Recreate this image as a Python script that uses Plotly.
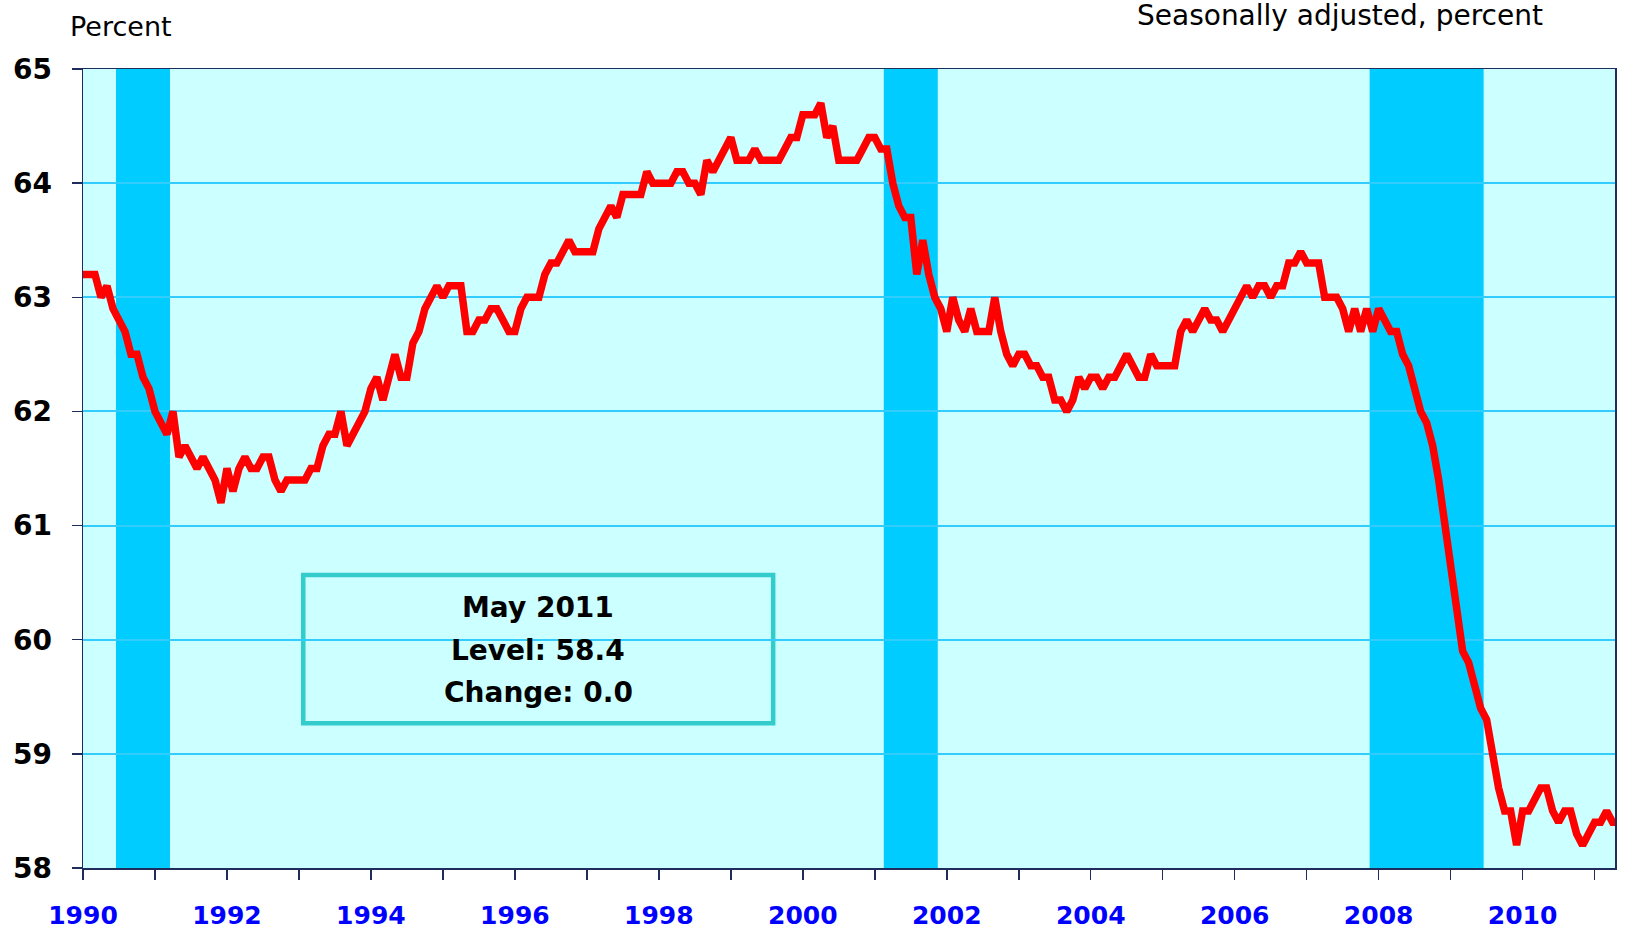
import plotly.graph_objects as go

# Employment-population ratio, seasonally adjusted, monthly Jan 1990 - May 2011
start_year = 1990
ratio_1990s = [
    63.2, 63.2, 63.2, 63.0, 63.1, 62.9, 62.8, 62.7, 62.5, 62.5, 62.3, 62.2,  # 1990
    62.0, 61.9, 61.8, 62.0, 61.6, 61.7, 61.6, 61.5, 61.6, 61.5, 61.4, 61.2,  # 1991
    61.5, 61.3, 61.5, 61.6, 61.5, 61.5, 61.6, 61.6, 61.4, 61.3, 61.4, 61.4,  # 1992
    61.4, 61.4, 61.5, 61.5, 61.7, 61.8, 61.8, 62.0, 61.7, 61.8, 61.9, 62.0,  # 1993
    62.2, 62.3, 62.1, 62.3, 62.5, 62.3, 62.3, 62.6, 62.7, 62.9, 63.0, 63.1,  # 1994
    63.0, 63.1, 63.1, 63.1, 62.7, 62.7, 62.8, 62.8, 62.9, 62.9, 62.8, 62.7,  # 1995
    62.7, 62.9, 63.0, 63.0, 63.0, 63.2, 63.3, 63.3, 63.4, 63.5, 63.4, 63.4,  # 1996
    63.4, 63.4, 63.6, 63.7, 63.8, 63.7, 63.9, 63.9, 63.9, 63.9, 64.1, 64.0,  # 1997
    64.0, 64.0, 64.0, 64.1, 64.1, 64.0, 64.0, 63.9, 64.2, 64.1, 64.2, 64.3,  # 1998
    64.4, 64.2, 64.2, 64.2, 64.3, 64.2, 64.2, 64.2, 64.2, 64.3, 64.4, 64.4,  # 1999
]
ratio_2000s = [
    64.6, 64.6, 64.6, 64.7, 64.4, 64.5, 64.2, 64.2, 64.2, 64.2, 64.3, 64.4,  # 2000
    64.4, 64.3, 64.3, 64.0, 63.8, 63.7, 63.7, 63.2, 63.5, 63.2, 63.0, 62.9,  # 2001
    62.7, 63.0, 62.8, 62.7, 62.9, 62.7, 62.7, 62.7, 63.0, 62.7, 62.5, 62.4,  # 2002
    62.5, 62.5, 62.4, 62.4, 62.3, 62.3, 62.1, 62.1, 62.0, 62.1, 62.3, 62.2,  # 2003
    62.3, 62.3, 62.2, 62.3, 62.3, 62.4, 62.5, 62.4, 62.3, 62.3, 62.5, 62.4,  # 2004
    62.4, 62.4, 62.4, 62.7, 62.8, 62.7, 62.8, 62.9, 62.8, 62.8, 62.7, 62.8,  # 2005
    62.9, 63.0, 63.1, 63.0, 63.1, 63.1, 63.0, 63.1, 63.1, 63.3, 63.3, 63.4,  # 2006
    63.3, 63.3, 63.3, 63.0, 63.0, 63.0, 62.9, 62.7, 62.9, 62.7, 62.9, 62.7,  # 2007
    62.9, 62.8, 62.7, 62.7, 62.5, 62.4, 62.2, 62.0, 61.9, 61.7, 61.4, 61.0,  # 2008
    60.6, 60.3, 59.9, 59.8, 59.6, 59.4, 59.3, 59.0, 58.7, 58.5, 58.5, 58.2,  # 2009
]
ratio_2010s = [
    58.5, 58.5, 58.6, 58.7, 58.7, 58.5, 58.4, 58.5, 58.5, 58.3, 58.2, 58.3,  # 2010
    58.4, 58.4, 58.5, 58.4, 58.4,                                            # 2011
]
ratio = ratio_1990s + ratio_2000s + ratio_2010s

# Recessions (first month, last month)
recessions = [((1990, 7), (1991, 3)), ((2001, 3), (2001, 11)), ((2007, 12), (2009, 6))]

tick_years = list(range(1990, 2012))
label_years = list(range(1990, 2012, 2))

box_lines = ["May 2011", "Level: 58.4", "Change: 0.0"]
y_axis_title = "Percent"
note = "Seasonally adjusted, percent"

def midx(y, m):
    return (y - start_year) * 12 + (m - 1)

x = list(range(len(ratio)))

# plot area in pixels
L, T, R, B = 82.7, 69.3, 1615.0, 867.7
W, H = R - L, B - T
def xp(px):
    return (px - L) / W
def yp(py):
    return (B - py) / H

navy = "#1F2D5C"
fig = go.Figure()
fig.add_trace(go.Scatter(x=x, y=ratio, mode="lines",
                         line=dict(color="#FF0000", width=7.5), hoverinfo="skip",
                         showlegend=False))

shapes = []
for (s, e) in recessions:
    shapes.append(dict(type="rect", xref="x", yref="paper",
                       x0=midx(*s) - 0.5, x1=midx(*e) + 0.5, y0=0, y1=1,
                       fillcolor="#00CCFF", line=dict(width=0), layer="below"))
shapes.append(dict(type="rect", xref="paper", yref="paper",
                   x0=xp(303), x1=xp(773), y0=yp(723), y1=yp(575),
                   fillcolor="#CCFFFF", line=dict(color="#33CCCC", width=4.5),
                   layer="between"))

annotations = [
    dict(text=y_axis_title, xref="paper", yref="paper", x=xp(68), y=yp(27),
         xanchor="left", yanchor="middle", showarrow=False,
         font=dict(family="DejaVu Sans", size=27, color="#000000")),
    dict(text=note, xref="paper", yref="paper", x=xp(1545), y=yp(16),
         xanchor="right", yanchor="middle", showarrow=False,
         font=dict(family="DejaVu Sans", size=28, color="#000000")),
]
for txt, cy in zip(box_lines, [607, 650, 692]):
    annotations.append(dict(text="<b>" + txt + "</b>", xref="paper", yref="paper",
                            x=xp(538), y=yp(cy), xanchor="center", yanchor="middle",
                            showarrow=False,
                            font=dict(family="DejaVu Sans", size=28, color="#000000")))

fig.update_layout(
    width=1626, height=930,
    margin=dict(l=L, r=1626 - R, t=T, b=930 - B, pad=0, autoexpand=False),
    paper_bgcolor="#FFFFFF", plot_bgcolor="#CCFFFF",
    shapes=shapes, annotations=annotations, showlegend=False,
)
fig.update_xaxes(
    range=[0, 255.4], tickmode="array", automargin=False,
    tickvals=[midx(y, 1) for y in tick_years],
    ticktext=[str(y) if y in label_years else "" for y in tick_years],
    ticks="outside", ticklen=10, tickwidth=1.5, tickcolor=navy,
    showline=True, linecolor=navy, linewidth=1.5, mirror=True,
    showgrid=False, zeroline=False, ticklabelstandoff=14,
    tickfont=dict(family="DejaVu Sans", size=25, color="#0000FF", weight="bold"),
)
fig.update_yaxes(
    range=[58, 65], tickmode="array", tickvals=list(range(58, 66)), automargin=False,
    ticks="outside", ticklen=10, tickwidth=1.5, tickcolor=navy,
    showline=True, linecolor=navy, linewidth=1.5, mirror=True,
    showgrid=True, gridcolor="#33CCFF", gridwidth=2, zeroline=False,
    ticklabelstandoff=14,
    tickfont=dict(family="DejaVu Sans", size=28, color="#000000", weight="bold"),
)

fig.write_html("out.html", config={"displayModeBar": False, "staticPlot": True},
               post_script="document.body.style.margin='0';document.body.style.overflow='hidden';")
